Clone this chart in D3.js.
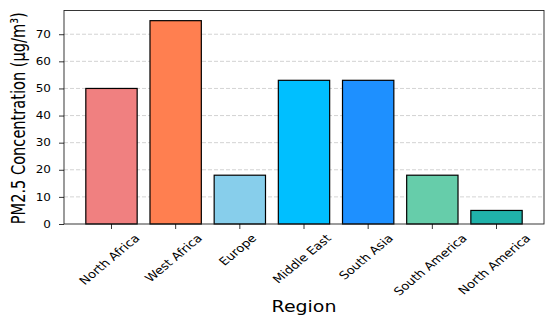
<!DOCTYPE html>
<html>
<head>
<meta charset="utf-8">
<script src="https://cdn.jsdelivr.net/npm/d3@7"></script>
<style>
  body { margin: 0; background: #fff; }
  svg { font-family: "DejaVu Sans", sans-serif; }
</style>
</head>
<body>
<div id="chart"></div>
<script>
// data
var regions = ["North Africa", "West Africa", "Europe", "Middle East", "South Asia", "South America", "North America"];
var pm25 = [50, 75, 18, 53, 53, 18, 5];
var barColors = ["#F08080", "#FF7F50", "#87CEEB", "#00BFFF", "#1E90FF", "#66CDAA", "#20B2AA"];
var yTicks = [0, 10, 20, 30, 40, 50, 60, 70];

// dimensions
var svgWidth = 550, svgHeight = 320;
var margin = { top: 10.5, right: 6, bottom: 96, left: 64 };
var width = svgWidth - margin.left - margin.right,
    height = svgHeight - margin.top - margin.bottom;

// the reference text looks stretched sideways a bit
var stretch = 1.2;

var svg = d3.select("#chart")
  .append("svg")
    .attr("width", svgWidth)
    .attr("height", svgHeight)
  .append("g")
    .attr("transform", `translate(${margin.left}, ${margin.top})`);

// x scale mimics matplotlib's bar positions with 5% margins
var n = regions.length;
var x = d3.scaleLinear().domain([-0.74, n - 1 + 0.74]).range([0, width]);
var barW = x(0.4) - x(-0.4);

var y = d3.scaleLinear().domain([0, 78.75]).range([height, 0]);

// grid
svg.append("g")
  .selectAll("line")
  .data(yTicks.slice(1))
  .enter().append("line")
    .attr("x1", 0).attr("x2", width)
    .attr("y1", d => y(d)).attr("y2", d => y(d))
    .attr("stroke", "#b0b0b0")
    .attr("stroke-opacity", 0.7)
    .attr("stroke-dasharray", "4,2")
    .attr("stroke-width", 0.8);

// bars
svg.selectAll(".bar")
  .data(pm25)
  .enter().append("rect")
    .attr("class", "bar")
    .attr("x", (d, i) => x(i) - barW / 2)
    .attr("width", barW)
    .attr("y", d => y(d))
    .attr("height", d => height - y(d))
    .attr("fill", (d, i) => barColors[i])
    .attr("stroke", "#000")
    .attr("stroke-width", 1.2);

// frame
svg.append("rect")
  .attr("width", width).attr("height", height)
  .attr("fill", "none").attr("stroke", "#222").attr("stroke-width", 0.9);

// y axis
var yAxis = d3.axisLeft(y).tickValues(yTicks).tickSize(5).tickPadding(0);
var yg = svg.append("g").call(yAxis);
yg.select(".domain").remove();
yg.selectAll("line").attr("stroke", "#000").attr("stroke-width", 0.8);
yg.selectAll("text")
  .attr("font-size", 10)
  .attr("font-family", "DejaVu Sans")
  .attr("fill", "#000")
  .attr("x", null)
  .attr("transform", `translate(-13, 0) scale(${stretch}, 1)`);

// x ticks
svg.append("g")
  .selectAll("line")
  .data(regions)
  .enter().append("line")
    .attr("x1", (d, i) => x(i)).attr("x2", (d, i) => x(i))
    .attr("y1", height).attr("y2", height + 5)
    .attr("stroke", "#000").attr("stroke-width", 0.8);

// rotated x labels, bbox centred under the tick like matplotlib's ha=center
var fs = 11;
svg.append("g")
  .selectAll("text")
  .data(regions)
  .enter().append("text")
    .attr("font-size", fs)
    .attr("text-anchor", "middle")
    .attr("dominant-baseline", "central")
    .text(d => d)
    .each(function(d, i) {
      var w = this.getComputedTextLength();
      var h = fs * 1.15;
      var cy = height + 8 + (w + h) * Math.SQRT1_2 / 2;
      d3.select(this)
        .attr("transform", `translate(${x(i) - 2}, ${cy}) scale(${stretch}, 1) rotate(-45)`);
    });

// axis titles
svg.append("text")
  .attr("transform", `translate(${width / 2}, ${311.5 - margin.top}) scale(${stretch}, 1)`)
  .attr("text-anchor", "middle")
  .attr("font-size", 15.8)
  .text("Region");

svg.append("text")
  .attr("transform", `translate(${-39}, ${height / 2 + 1}) scale(1.35, 1) rotate(-90)`)
  .attr("text-anchor", "middle")
  .attr("font-size", 14.6)
  .text("PM2.5 Concentration (μg/m³)");
</script>
</body>
</html>
